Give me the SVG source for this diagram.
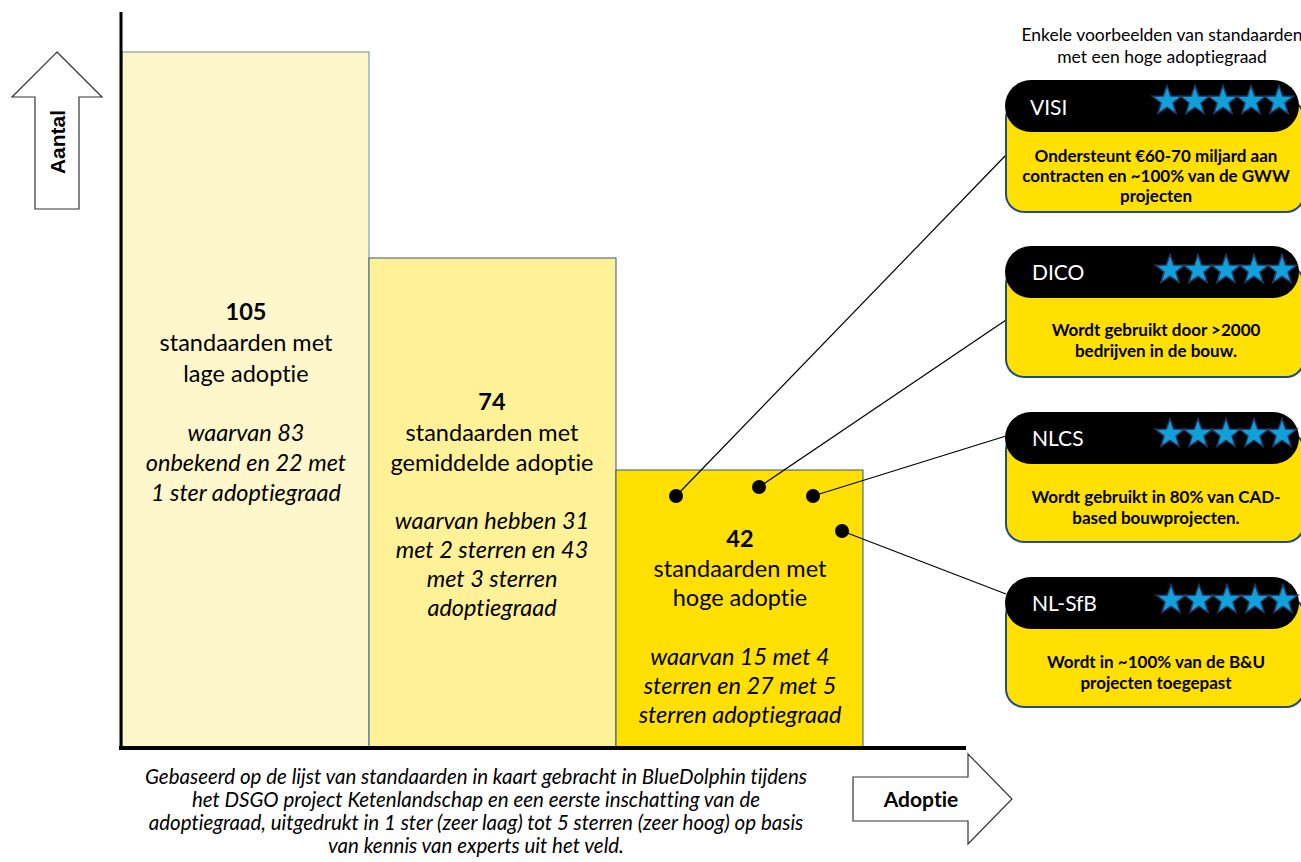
<svg xmlns="http://www.w3.org/2000/svg" xmlns:xlink="http://www.w3.org/1999/xlink" width="1301" height="862" viewBox="0 0 1301 862">
<defs>
<style>
text{font-variant-ligatures:none}
.t{font-family:Lato,"Open Sans","Liberation Sans",sans-serif;fill:#000}
.bar{font-size:23.5px;text-anchor:middle}
.b{font-weight:bold}
.i{font-style:italic}
.cap{font-size:20.5px;font-style:italic;text-anchor:middle}
.hd{font-family:Lato,"Open Sans","Liberation Sans",sans-serif;font-size:21px;fill:#fff}
.body{font-family:Lato,"Open Sans","Liberation Sans",sans-serif;font-size:17px;font-weight:bold;text-anchor:middle;fill:#000}
.card{fill:#FFE000;stroke:#1F4E79;stroke-width:2}
.head{fill:#000}
.star{fill:#12A0DB;stroke:#1F3864;stroke-width:1.5;stroke-linejoin:miter}
.conn{stroke:#000;stroke-width:1.2;fill:none}
.dot{fill:#000}
.arrow{fill:#fff;stroke:#333;stroke-width:1.2}
</style>
<path id="st" class="star" d="M0,-15.5 L3.7,-5.1 L14.74,-4.79 L5.99,1.95 L9.11,12.54 L0,6.3 L-9.11,12.54 L-5.99,1.95 L-14.74,-4.79 L-3.7,-5.1 Z"/>
<g id="stars">
<use xlink:href="#st" href="#st" x="0" y="0"/>
<use xlink:href="#st" href="#st" x="28" y="0"/>
<use xlink:href="#st" href="#st" x="56" y="0"/>
<use xlink:href="#st" href="#st" x="84" y="0"/>
<use xlink:href="#st" href="#st" x="112" y="0"/>
</g>
</defs>
<rect width="1301" height="862" fill="#fff"/>

<g id="bar-low">
<rect x="122" y="52" width="247" height="696" fill="#FFF7CC" stroke="#5E8FA3" stroke-width="1"/>
<text class="t bar b" x="246" y="320">105</text>
<text class="t bar" x="246" y="351">standaarden met</text>
<text class="t bar" x="246" y="382">lage adoptie</text>
<text class="t bar i" x="246" y="441">waarvan 83</text>
<text class="t bar i" x="246" y="471">onbekend en 22 met</text>
<text class="t bar i" x="246" y="501">1 ster adoptiegraad</text>
</g>

<g id="bar-mid">
<rect x="369" y="258" width="247" height="490" fill="#FFF197" stroke="#2F5A7A" stroke-width="1"/>
<text class="t bar b" x="492" y="410">74</text>
<text class="t bar" x="492" y="441">standaarden met</text>
<text class="t bar" x="492" y="471">gemiddelde adoptie</text>
<text class="t bar i" x="492" y="529">waarvan hebben 31</text>
<text class="t bar i" x="492" y="558">met 2 sterren en 43</text>
<text class="t bar i" x="492" y="587">met 3 sterren</text>
<text class="t bar i" x="492" y="616">adoptiegraad</text>
</g>

<g id="bar-high">
<rect x="616" y="470" width="247" height="278" fill="#FFE000" stroke="#2F5A7A" stroke-width="1"/>
<text class="t bar b" x="740" y="547">42</text>
<text class="t bar" x="740" y="577">standaarden met</text>
<text class="t bar" x="740" y="606">hoge adoptie</text>
<text class="t bar i" x="740" y="665">waarvan 15 met 4</text>
<text class="t bar i" x="740" y="694">sterren en 27 met 5</text>
<text class="t bar i" x="740" y="723">sterren adoptiegraad</text>
</g>

<g id="axes">
<line x1="121" y1="12" x2="121" y2="750" stroke="#000" stroke-width="3"/>
<line x1="119" y1="748" x2="966" y2="748" stroke="#000" stroke-width="4"/>
</g>

<g id="arrow-aantal">
<polygon class="arrow" points="57,52 102,97 79,97 79,209 35,209 35,97 12,97"/>
<text transform="translate(65,142) rotate(-90)" text-anchor="middle" font-family="'Liberation Sans',Arial,sans-serif" font-size="21" font-weight="bold" fill="#000">Aantal</text>
</g>

<g id="arrow-adoptie">
<polygon class="arrow" points="853,777 968,777 968,754 1012,799 968,844 968,821 853,821"/>
<text class="t b" x="921" y="807" font-size="21" text-anchor="middle">Adoptie</text>
</g>

<g id="caption">
<text class="t cap" x="476" y="784">Gebaseerd op de lijst van standaarden in kaart gebracht in BlueDolphin tijdens</text>
<text class="t cap" x="476" y="807">het DSGO project Ketenlandschap en een eerste inschatting van de</text>
<text class="t cap" x="476" y="830">adoptiegraad, uitgedrukt in 1 ster (zeer laag) tot 5 sterren (zeer hoog) op basis</text>
<text class="t cap" x="476" y="853">van kennis van experts uit het veld.</text>
</g>

<g id="title">
<text class="t" x="1162" y="41" font-size="17.5" text-anchor="middle">Enkele voorbeelden van standaarden</text>
<text class="t" x="1162" y="63" font-size="17.5" text-anchor="middle">met een hoge adoptiegraad</text>
</g>

<g id="connectors">
<line class="conn" x1="676" y1="496" x2="1006" y2="155"/>
<line class="conn" x1="759" y1="487" x2="1006" y2="320"/>
<line class="conn" x1="813" y1="496" x2="1006" y2="436"/>
<line class="conn" x1="842" y1="531" x2="1006" y2="594"/>
<circle class="dot" cx="676" cy="496" r="7"/>
<circle class="dot" cx="759" cy="487" r="7"/>
<circle class="dot" cx="813" cy="496" r="7"/>
<circle class="dot" cx="842" cy="531" r="7"/>
</g>

<g id="card-visi">
<rect class="card" x="1006" y="100" width="298" height="112" rx="18"/>
<rect class="head" x="1005" y="80" width="294" height="52" rx="26"/>
<text class="hd" x="1030" y="115">VISI</text>
<use xlink:href="#stars" href="#stars" x="1167" y="101"/>
<text class="body" x="1156" y="162">Ondersteunt €60-70 miljard aan</text>
<text class="body" x="1156" y="182">contracten en ~100% van de GWW</text>
<text class="body" x="1156" y="202">projecten</text>
</g>

<g id="card-dico">
<rect class="card" x="1006" y="266" width="298" height="111" rx="18"/>
<rect class="head" x="1005" y="246" width="294" height="52" rx="26"/>
<text class="hd" x="1032" y="280">DICO</text>
<use xlink:href="#stars" href="#stars" x="1170" y="270"/>
<text class="body" x="1156" y="336">Wordt gebruikt door &gt;2000</text>
<text class="body" x="1156" y="357">bedrijven in de bouw.</text>
</g>

<g id="card-nlcs">
<rect class="card" x="1006" y="432" width="298" height="110" rx="18"/>
<rect class="head" x="1005" y="412" width="294" height="52" rx="26"/>
<text class="hd" x="1032" y="446">NLCS</text>
<use xlink:href="#stars" href="#stars" x="1170" y="434"/>
<text class="body" x="1156" y="503">Wordt gebruikt in 80% van CAD-</text>
<text class="body" x="1156" y="524">based bouwprojecten.</text>
</g>

<g id="card-nlsfb">
<rect class="card" x="1006" y="597" width="298" height="110" rx="18"/>
<rect class="head" x="1005" y="577" width="294" height="52" rx="26"/>
<text class="hd" x="1032" y="611">NL-SfB</text>
<use xlink:href="#stars" href="#stars" x="1171" y="600"/>
<text class="body" x="1156" y="668">Wordt in ~100% van de B&amp;U</text>
<text class="body" x="1156" y="689">projecten toegepast</text>
</g>
</svg>
